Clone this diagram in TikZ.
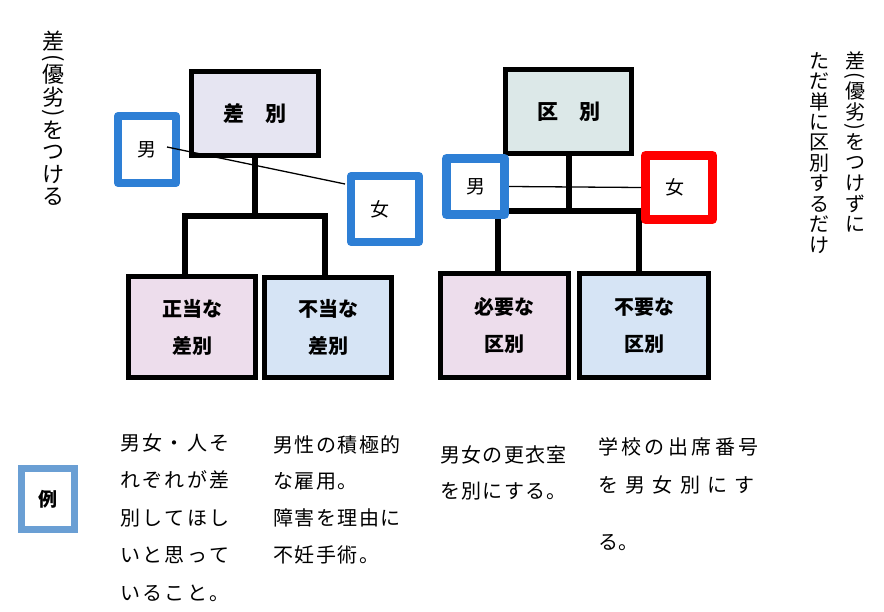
\documentclass[tikz,border=0pt]{standalone}
\usepackage{fontspec}
\usepackage{graphicx}
\setmainfont{Noto Sans CJK JP}
\usetikzlibrary{calc}
\definecolor{lav}{HTML}{E6E5F2}
\definecolor{kub}{HTML}{DCE8E8}
\definecolor{pnk}{HTML}{EDDDEC}
\definecolor{lbl}{HTML}{D6E4F5}
\definecolor{gblue}{HTML}{2E7FD5}
\definecolor{rblue}{HTML}{6A9FD4}
\definecolor{gred}{HTML}{FF0000}
\makeatletter
\newcommand\lsp[2]{\def\lsp@sep{\hskip#1\relax}\@tfor\lsp@c:=#2\do{\lsp@c\lsp@sep}\unskip}
\makeatother
\newlength\vpitch
\newcommand\VC[1]{\hbox to\vpitch{\hss\vbox to\vpitch{\vss\hbox{#1}\vss}\hss}}
\newcommand\VH[1]{\hbox to\vpitch{\hss\vbox to .5\vpitch{\vss\hbox{#1}\vss}\hss}}
\newcommand\VLP{\VH{\rotatebox{-90}{(}}}
\newcommand\VRP{\VH{\rotatebox{-90}{)}}}
\begin{document}
\begin{tikzpicture}[x=1pt,y=-1pt,
  bigbox/.style={draw=black, line width=5pt, inner sep=0, align=center,
    font=\fontsize{20}{37}\selectfont\bfseries},
  gbox/.style={draw=#1, line width=8pt, line join=round, fill=white, inner sep=0,
    font=\fontsize{19}{19}\selectfont},
  treeline/.style={line width=6pt},
  thinline/.style={line width=1.3pt},
  btext/.style={inner sep=0, align=left, anchor=north west},
  vtext/.style={inner sep=0, anchor=north}]
\useasboundingbox (0,0) rectangle (884,612);

% tree connectors (under boxes)
\coordinate (bLl) at (184.5,216);
\coordinate (bLr) at (325,216);
\coordinate (bRl) at (498,211);
\coordinate (bRr) at (639,211);

% boxes, left tree
\node[bigbox, fill=lav, minimum width=126.5pt, minimum height=83.5pt, font=\fontsize{21}{21}\selectfont\bfseries] (sab) at (255,113.5) {差　別};
\node[bigbox, fill=pnk, minimum width=127pt, minimum height=101pt] (seito) at (192,327) {正当な\\差別};
\node[bigbox, fill=lbl, minimum width=127pt, minimum height=100pt] (futo) at (328,327.5) {不当な\\差別};
% boxes, right tree
\node[bigbox, fill=kub, minimum width=126pt, minimum height=84pt, font=\fontsize{21}{21}\selectfont\bfseries] (kub) at (568.5,111.5) {区　別};
\node[bigbox, fill=pnk, minimum width=128pt, minimum height=104pt] (hitsu) at (504.5,325.5) {必要な\\区別};
\node[bigbox, fill=lbl, minimum width=129pt, minimum height=104pt] (fuyo) at (644,325.5) {不要な\\区別};

\draw[treeline] (sab.south) -- (sab.south |- bLl);
\draw[treeline] (bLl |- seito.north) -- (bLl) -- (bLr) -- (bLr |- futo.north);
\draw[treeline] (kub.south) -- (kub.south |- bRl);
\draw[treeline] (bRl |- hitsu.north) -- (bRl) -- (bRr) -- (bRr |- fuyo.north);

% man / woman boxes
\node[gbox=gblue, minimum width=58pt, minimum height=67pt] (manL) at (147,149.5) {男};
\node[gbox=gblue, minimum width=68pt, minimum height=66pt] (womL) at (385,209) {\hspace*{-10pt}女};
\node[gbox=gblue, line width=9pt, minimum width=58pt, minimum height=56pt] (manR) at (475.5,186.5) {男};
\node[gbox=gred, line width=9pt, minimum width=67pt, minimum height=64pt] (womR) at (679,187.5) {\hspace*{-8pt}女};

\draw[thinline] ($(manL.center)+(20,-2.5)$) -- ($(womL.west)+(-2,-25)$);
\draw[thinline] (manR.east) -- (womR.west);

% vertical texts
\node[vtext] (lv) at (53,30) {\setlength\vpitch{22.25pt}\fontsize{22}{22}\selectfont
  \vbox{\offinterlineskip\VC{差}\VLP\VC{優}\VC{劣}\VRP\VC{を}\VC{つ}\VC{け}\VC{る}}};
\node[vtext] (rv1) at (855,50) {\setlength\vpitch{20.5pt}\fontsize{20}{20}\selectfont
  \vbox{\offinterlineskip\VC{差}\VLP\VC{優}\VC{劣}\VRP\VC{を}\VC{つ}\VC{け}\VC{ず}\VC{に}}};
\node[vtext] (rv2) at (819,50) {\setlength\vpitch{20.5pt}\fontsize{20}{20}\selectfont
  \vbox{\offinterlineskip\VC{た}\VC{だ}\VC{単}\VC{に}\VC{区}\VC{別}\VC{す}\VC{る}\VC{だ}\VC{け}}};

% example
\node[gbox=rblue, line width=7pt, line join=miter, minimum width=53pt, minimum height=61pt, font=\fontsize{19}{19}\selectfont\bfseries] (rei) at (48,499) {例};

\node[btext, font=\fontsize{20}{37.5}\selectfont] (ex1) at (120,433)
  {\lsp{2.4pt}{男女・人そ}\\\lsp{2.4pt}{れぞれが差}\\\lsp{2.4pt}{別してほし}\\\lsp{2.4pt}{いと思って}\\\lsp{2.4pt}{いること。}};
\node[btext, font=\fontsize{20}{36.7}\selectfont] (ex2) at (273,435)
  {\lsp{1.5pt}{男性の積極的}\\\lsp{1.5pt}{な雇用。}\\\lsp{1.5pt}{障害を理由に}\\\lsp{1.5pt}{不妊手術。}};
\node[btext, font=\fontsize{20}{36}\selectfont] (ex3) at (440,445)
  {\lsp{1.3pt}{男女の更衣室}\\\lsp{1.3pt}{を別にする。}};
\node[btext, font=\fontsize{20}{38}\selectfont] (ex4) at (598,437)
  {\lsp{3.4pt}{学校の出席番号}\\\lsp{7.3pt}{を男女別にす}\\[19pt]る。};
\end{tikzpicture}
\end{document}
